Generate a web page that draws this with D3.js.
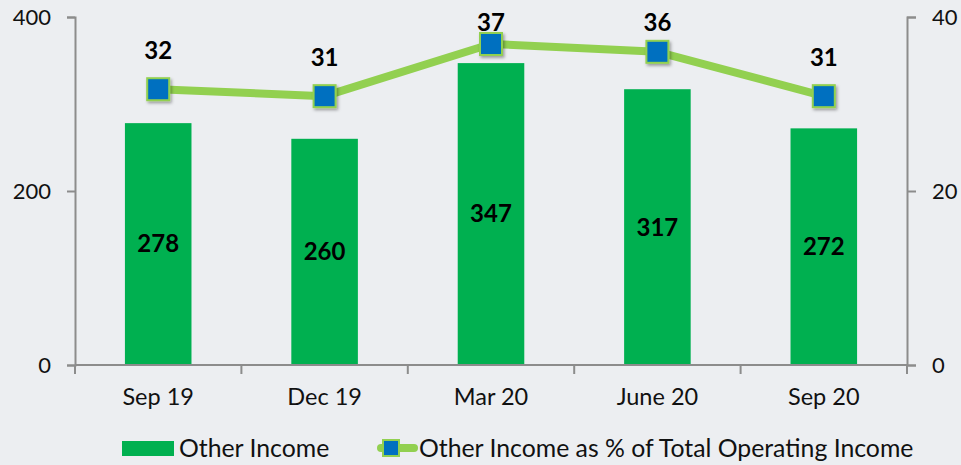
<!DOCTYPE html>
<meta charset="utf-8">
<title>Other Income</title>
<style>
body { margin: 0; background: #eceef1; }
svg { display: block; font-family: Lato, "Open Sans", sans-serif; }
</style>
<script src="https://d3js.org/d3.v7.min.js"></script>
<body>
<script>
var width = 961, height = 465;

// data
var quarters = ["Sep 19", "Dec 19", "Mar 20", "June 20", "Sep 20"];
var otherIncome = [278, 260, 347, 317, 272];
var sharePct = [31.7, 30.9, 36.9, 36.0, 30.9];
var shareLabels = ["32", "31", "37", "36", "31"];
var leftTicks = [0, 200, 400];
var rightTicks = [0, 20, 40];

var margin = {left: 75, right: 54, top: 17, bottom: 100};
var plotW = width - margin.left - margin.right;   // 832
var plotH = height - margin.top - margin.bottom;  // 348

var svg = d3.select("body").append("svg")
    .attr("width", width)
    .attr("height", height);

svg.append("rect").attr("width", width).attr("height", height).attr("fill", "#eceef1");

var defs = svg.append("defs");
var sh = defs.append("filter").attr("id", "shadow").attr("x", "-50%").attr("y", "-50%").attr("width", "200%").attr("height", "200%");
sh.append("feDropShadow").attr("dx", 1.5).attr("dy", 2).attr("stdDeviation", 1.5).attr("flood-color", "#000").attr("flood-opacity", 0.35);

var g = svg.append("g").attr("transform", "translate(" + margin.left + "," + margin.top + ")");

var x = d3.scaleBand().domain(quarters).range([0, plotW]).paddingInner(0.6).paddingOuter(0.3);
var xb = d3.scaleBand().domain(quarters).range([0, plotW]);
var y = d3.scaleLinear().domain([0, 400]).range([plotH, 0]);
var y2 = d3.scaleLinear().domain([0, 40]).range([plotH, 0]);

// bars
g.selectAll("rect.bar")
    .data(otherIncome)
  .enter().append("rect")
    .attr("class", "bar")
    .attr("x", function(d, i) { return x(quarters[i]); })
    .attr("y", function(d) { return y(d); })
    .attr("width", x.bandwidth())
    .attr("height", function(d) { return plotH - y(d); })
    .attr("fill", "#00b050");

g.selectAll("text.barlab")
    .data(otherIncome)
  .enter().append("text")
    .attr("x", function(d, i) { return x(quarters[i]) + x.bandwidth() / 2; })
    .attr("y", function(d) { return (y(d) + plotH) / 2; })
    .attr("dy", "0.35em")
    .attr("text-anchor", "middle")
    .attr("font-size", 24)
    .attr("font-weight", "bold")
    .attr("fill", "#000")
    .text(function(d) { return d; });

// axes
var axisColor = "#8c8c8c";
var la = g.append("g").call(d3.axisLeft(y).tickValues(leftTicks).tickSize(8).tickPadding(16));
var ra = g.append("g").attr("transform", "translate(" + plotW + ",0)")
    .call(d3.axisRight(y2).tickValues(rightTicks).tickSize(9).tickPadding(16));
var ba = g.append("g").attr("transform", "translate(0," + plotH + ")")
    .call(d3.axisBottom(xb).tickSize(0).tickPadding(23));
ba.select(".domain").remove();
[la, ra, ba].forEach(function(a) {
  a.selectAll("path, line").attr("stroke", axisColor).attr("stroke-width", 2);
  a.selectAll("text").attr("font-size", 22).attr("font-family", "Lato, sans-serif").attr("fill", "#111");
});
ba.selectAll("text").attr("font-size", 23.5);
g.append("line").attr("x1", 0).attr("x2", plotW).attr("y1", plotH).attr("y2", plotH)
    .attr("stroke", axisColor).attr("stroke-width", 2);
// category boundary ticks
g.selectAll("line.sep")
    .data(quarters.concat(["end"]))
  .enter().append("line")
    .attr("x1", function(d, i) { return i * xb.bandwidth(); })
    .attr("x2", function(d, i) { return i * xb.bandwidth(); })
    .attr("y1", plotH).attr("y2", plotH + 9)
    .attr("stroke", axisColor).attr("stroke-width", 2);

// line series
var line = d3.line()
    .x(function(d, i) { return xb(quarters[i]) + xb.bandwidth() / 2; })
    .y(function(d) { return y2(d); });
g.append("path").datum(sharePct)
    .attr("d", line)
    .attr("fill", "none")
    .attr("stroke", "#92d050")
    .attr("stroke-width", 8)
    .attr("stroke-linejoin", "round");

var ms = 22;
g.selectAll("rect.marker")
    .data(sharePct)
  .enter().append("rect")
    .attr("x", function(d, i) { return xb(quarters[i]) + xb.bandwidth() / 2 - ms / 2; })
    .attr("y", function(d) { return y2(d) - ms / 2; })
    .attr("width", ms).attr("height", ms)
    .attr("fill", "#0070c0")
    .attr("stroke", "#92d050")
    .attr("stroke-width", 2)
    .attr("filter", "url(#shadow)");

// labels sit above markers but are kept inside the top of the chart
g.selectAll("text.linelab")
    .data(sharePct)
  .enter().append("text")
    .attr("x", function(d, i) { return xb(quarters[i]) + xb.bandwidth() / 2; })
    .attr("y", function(d) { return Math.max(y2(d) - 39, 6); })
    .attr("dy", "0.35em")
    .attr("text-anchor", "middle")
    .attr("font-size", 24)
    .attr("font-weight", "bold")
    .attr("fill", "#000")
    .text(function(d, i) { return shareLabels[i]; });

// legend
var leg = svg.append("g").attr("font-size", 24.8).attr("fill", "#111");
leg.append("rect").attr("x", 122).attr("y", 441).attr("width", 52).attr("height", 15).attr("fill", "#00b050");
leg.append("text").attr("x", 179).attr("y", 448).attr("dy", "0.35em").text("Other Income");
leg.append("line").attr("x1", 381).attr("x2", 414).attr("y1", 448).attr("y2", 448)
    .attr("stroke", "#92d050").attr("stroke-width", 8).attr("stroke-linecap", "round");
leg.append("rect").attr("x", 383).attr("y", 440).attr("width", 16).attr("height", 16)
    .attr("fill", "#0070c0").attr("stroke", "#92d050").attr("stroke-width", 2);
leg.append("text").attr("x", 419).attr("y", 448).attr("dy", "0.35em").text("Other Income as % of Total Operating Income");
</script>
</body>
